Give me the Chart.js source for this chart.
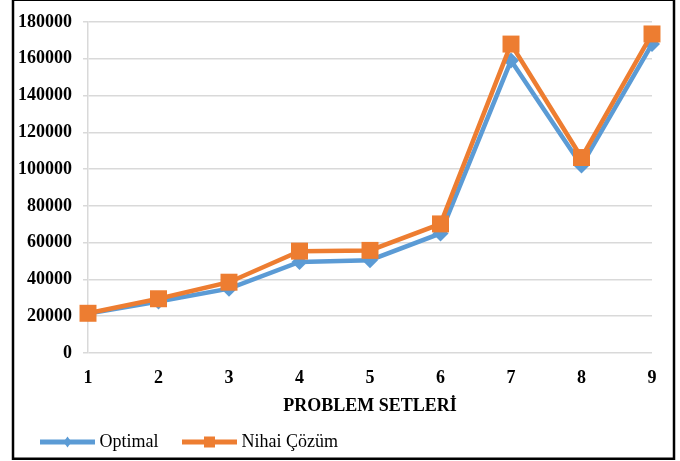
<!DOCTYPE html>
<html>
<head>
<meta charset="utf-8">
<script src="https://cdn.jsdelivr.net/npm/chart.js@4/dist/chart.umd.min.js"></script>
<style>
  html,body{margin:0;padding:0;background:#fff;}
  #wrap{position:relative;width:680px;height:461px;}
</style>
</head>
<body>
<div id="wrap"><canvas id="c" width="680" height="461"></canvas></div>
<script>
// problem sets on the x axis
const setLabels = ['1','2','3','4','5','6','7','8','9'];
// series
const optimal = [21500, 28000, 35000, 49500, 50500, 65000, 159000, 102000, 168000];
const nihaiCozum = [21600, 29500, 38500, 55400, 55800, 70200, 168000, 106300, 173500];
const yTicks = [0, 20000, 40000, 60000, 80000, 100000, 120000, 140000, 160000, 180000];

const BLUE = '#5B9BD5', ORANGE = '#ED7D31', GRID = '#D9D9D9';
const FONT = "'Liberation Serif','Times New Roman',serif";

// legend swatch: line with marker in the middle
function swatch(color, marker){
  const cv = document.createElement('canvas');
  cv.width = 55; cv.height = 14;
  const g = cv.getContext('2d');
  g.fillStyle = color;
  g.fillRect(0, 4.5, 55, 5);
  g.beginPath();
  if (marker === 'diamond'){
    g.moveTo(27.5, 1.5); g.lineTo(31.5, 7); g.lineTo(27.5, 12.5); g.lineTo(23.5, 7);
  } else {
    g.rect(22, 1.5, 11, 11);
  }
  g.closePath(); g.fill();
  return cv;
}

const frame = {
  id: 'frame',
  beforeDraw(chart){
    const ctx = chart.ctx;
    ctx.save(); ctx.fillStyle = '#fff'; ctx.fillRect(0, 0, chart.width, chart.height); ctx.restore();
  },
  afterDraw(chart){
    const ctx = chart.ctx;
    ctx.save();
    ctx.strokeStyle = '#000'; ctx.lineWidth = 2.5;
    ctx.strokeRect(13, -0.25, 661, 459);
    ctx.restore();
  }
};

new Chart(document.getElementById('c'), {
  type: 'line',
  data: {
    labels: setLabels,
    datasets: [
      {label: 'Optimal', data: optimal, borderColor: BLUE, backgroundColor: BLUE, borderWidth: 4.5,
       pointStyle: 'rectRot', pointRadius: 8, pointBorderWidth: 0, tension: 0, order: 1},
      {label: 'Nihai Çözüm', data: nihaiCozum, borderColor: ORANGE, backgroundColor: ORANGE, borderWidth: 4.5,
       pointStyle: 'rect', pointRadius: 12, pointBorderWidth: 0, tension: 0, order: 0}
    ]
  },
  options: {
    responsive: false, animation: false,
    layout: {padding: {left: 16.5, right: 28, top: 22, bottom: 0}},
    plugins: {
      tooltip: {enabled: false},
      legend: {
        position: 'bottom', align: 'start',
        labels: {
          usePointStyle: true, pointStyleWidth: 46, padding: 28, color: '#000',
          font: {family: FONT, size: 18},
          generateLabels: chart => chart.data.datasets.map((d, i) => ({
            text: d.label, datasetIndex: i, hidden: false, lineWidth: 0, fontColor: '#000',
            fillStyle: d.borderColor, strokeStyle: d.borderColor,
            pointStyle: swatch(d.borderColor, i === 0 ? 'diamond' : 'square')
          }))
        }
      }
    },
    scales: {
      x: {
        offset: false,
        grid: {display: false}, border: {display: false},
        ticks: {color: '#000', padding: 7, font: {family: FONT, size: 18, weight: 'bold'}},
        title: {display: true, text: 'PROBLEM SETLERİ', color: '#000', padding: {top: 0, bottom: -12},
                font: {family: FONT, size: 18, weight: 'bold'}},
        afterFit: s => { s.height = 52; }
      },
      y: {
        min: 0, max: 180000,
        afterBuildTicks: s => { s.ticks = yTicks.map(v => ({value: v})); },
        grid: {color: GRID, lineWidth: 1.5, tickLength: 5},
        border: {display: true, color: GRID, width: 1.5},
        ticks: {color: '#000', padding: 11, font: {family: FONT, size: 18, weight: 'bold'},
                callback: v => String(v)},
        afterFit: s => { s.width = 71.5; }
      }
    }
  },
  plugins: [frame]
});
</script>
</body>
</html>
